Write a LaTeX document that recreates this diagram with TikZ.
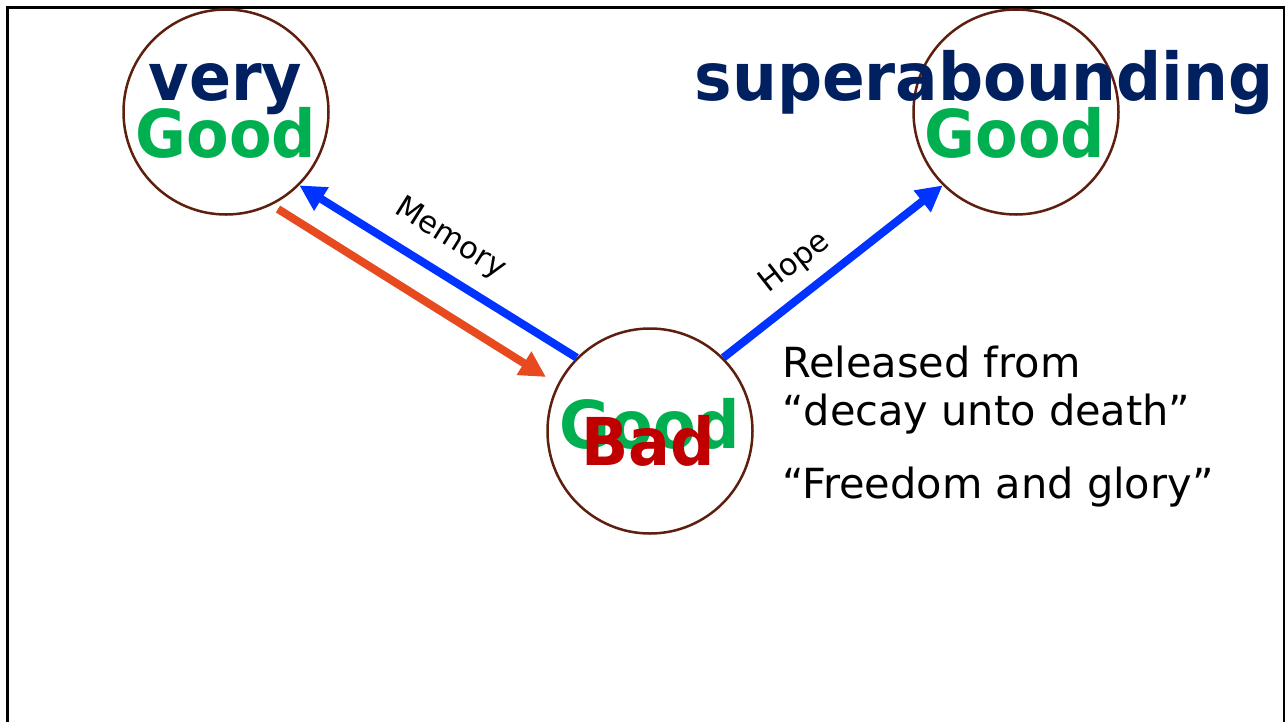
\documentclass[tikz,border=0pt]{standalone}
\usepackage{fontspec}
\setmainfont{DejaVu Sans}
\usetikzlibrary{arrows.meta}
\definecolor{navy}{HTML}{002060}
\definecolor{grn}{HTML}{00B050}
\definecolor{rd}{HTML}{C00000}
\definecolor{blu}{HTML}{0033FF}
\definecolor{orng}{HTML}{E64A1E}
\definecolor{brwn}{HTML}{5E1F0E}
\tikzset{
  ring/.style={circle, draw=brwn, line width=2.5pt, minimum size=205pt, inner sep=0pt},
  big/.style={inner sep=0pt, anchor=base, xscale=0.94, font=\fontsize{66}{78}\selectfont\bfseries},
  lbl/.style={inner sep=0pt, font=\fontsize{30.5}{36}\selectfont},
  txt/.style={inner sep=0pt, anchor=base west, font=\fontsize{41.5}{49}\selectfont},
  arr/.style={line width=8pt, -{Triangle[length=26pt,width=26pt]}}
}
\begin{document}
\begin{tikzpicture}[x=1pt,y=-1pt]
\useasboundingbox (0,0) rectangle (1286,721);
\fill[white] (0,0) rectangle (1286,721);
\draw[line width=2.5pt] (7.5,730) -- (7.5,7.5) -- (1284,7.5) -- (1284,730);
\node[ring] (L) at (226,112) {};
\node[ring] (R) at (1016,112) {};
\node[ring] (B) at (650,431) {};
\node[big, text=navy] (very) at (225.5,100) {very};
\node[big, text=grn] (goodL) at (226,157) {Good};
\node[big, text=navy, xscale=1.016] (super) at (984,100) {superabounding};
\node[big, text=grn] (goodR) at (1015,157) {Good};
\node[big, text=grn] (goodB) at (650,448) {Good};
\node[big, text=rd] (bad) at (648,465) {Bad};
\coordinate (os) at (278,209);
\coordinate (oe) at (546,377);
\draw[arr, draw=orng, fill=orng] (os) -- (oe);
\draw[arr, draw=blu, fill=blu] (B.135) -- (L.-45);
\draw[arr, draw=blu, fill=blu] (B.45) -- (R.225);
\node[lbl, rotate=-32] (mem) at (450,239) {Memory};
\node[lbl, rotate=38] (hope) at (795,263) {Hope};
\node[txt] (t1) at (782,377) {Released from};
\node[txt] (t2) at (782,425) {“decay unto death”};
\node[txt] (t3) at (782,498) {“Freedom and glory”};
\end{tikzpicture}
\end{document}
